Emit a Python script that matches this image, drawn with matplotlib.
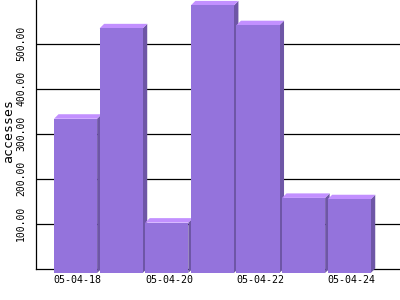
import matplotlib
matplotlib.use("Agg")
import matplotlib.pyplot as plt
from matplotlib.patches import Polygon

dates = ["05-04-18", "05-04-19", "05-04-20", "05-04-21", "05-04-22", "05-04-23", "05-04-24"]
accesses = [333, 534, 102, 585, 541, 157, 154]
yticks = [100, 200, 300, 400, 500]
ylabel = "accesses"

FRONT = "#9473DC"
TOP = "#C290FF"
SIDE = "#6E56A6"

fig = plt.figure(figsize=(4, 3), dpi=100)
ax = fig.add_axes([36 / 400, 31.5 / 300, 364 / 400, 268.5 / 300])
ax.set_xlim(-0.395, 7.587)
ax.set_ylim(0, 597)

w = 0.945
dx = 0.099
dy = 10
for i, v in enumerate(accesses):
    x0 = i
    front = Polygon([(x0, -dy), (x0 + w, -dy), (x0 + w, v), (x0, v)],
                    closed=True, facecolor=FRONT, edgecolor="none", zorder=3, clip_on=False)
    side = Polygon([(x0 + w, -dy), (x0 + w + dx, 0), (x0 + w + dx, v + dy), (x0 + w, v)],
                   closed=True, facecolor=SIDE, edgecolor="none", zorder=3, clip_on=False)
    top = Polygon([(x0, v), (x0 + w, v), (x0 + w + dx, v + dy), (x0 + dx, v + dy)],
                  closed=True, facecolor=TOP, edgecolor="none", zorder=3, clip_on=False)
    ax.add_patch(side)
    ax.add_patch(top)
    ax.add_patch(front)

for y in yticks:
    ax.axhline(y, color="black", lw=0.9, zorder=1)

ax.set_yticks(yticks)
ax.set_yticklabels(["%.2f" % t for t in yticks], rotation=90, va="center",
                   family="DejaVu Sans Mono", fontsize=7)
ax.tick_params(axis="y", length=0, pad=7)

xt_idx = [0, 2, 4, 6]
ax.set_xticks([i + 0.52 for i in xt_idx])
ax.set_xticklabels([dates[i] for i in xt_idx], family="DejaVu Sans Mono", fontsize=7.2)
ax.tick_params(axis="x", length=0, pad=5)

for s in ["top", "right"]:
    ax.spines[s].set_visible(False)
for s in ["left", "bottom"]:
    ax.spines[s].set_color("black")
    ax.spines[s].set_linewidth(0.9)
    ax.spines[s].set_zorder(1)

fig.text(9 / 400, 1 - 131 / 300, ylabel, rotation=90, ha="center", va="center",
         family="DejaVu Sans Mono", fontsize=9.5)

fig.savefig("out.png", dpi=100)
